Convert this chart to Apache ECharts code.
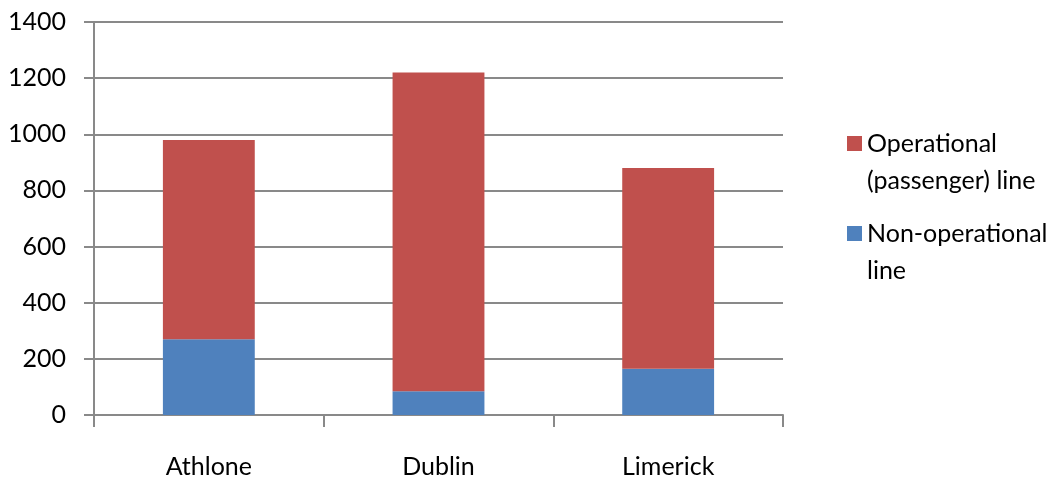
<!DOCTYPE html>
<html>
<head>
<meta charset="utf-8">
<script src="https://cdn.jsdelivr.net/npm/echarts@6/dist/echarts.min.js"></script>
<style>
  html, body { margin: 0; padding: 0; background: #fff; }
  #chart { width: 1056px; height: 479px; }
</style>
</head>
<body>
<div id="chart"></div>
<script>
  // data
  const cities = ['Athlone', 'Dublin', 'Limerick'];
  const nonOperational = [270, 85, 165];
  const operational = [710, 1135, 715];
  const yTicks = [0, 200, 400, 600, 800, 1000, 1200, 1400];

  const opName = 'Operational (passenger) line';
  const nonOpName = 'Non-operational line';
  // leading blank line: the square is centred on the text block, so this puts it beside line one
  const legendText = {};
  legendText[opName] = ' \nOperational\n(passenger) line';
  legendText[nonOpName] = ' \nNon-operational\nline';

  const font = 'Lato, "Open Sans", sans-serif';
  const gridColor = '#898989';

  function legendBox(name, top) {
    return {
      orient: 'vertical',
      left: 847,
      top: top,
      padding: 0,
      itemWidth: 15,
      itemHeight: 15,
      icon: 'rect',
      data: [name],
      formatter: function (n) { return legendText[n]; },
      textStyle: { fontSize: 25, color: '#000', lineHeight: 37, fontFamily: font }
    };
  }

  let chart = echarts.init(document.getElementById('chart'));
  chart.setOption({
    animation: false,
    textStyle: { fontFamily: font },
    grid: { left: 94, right: 273, top: 22, bottom: 63 },
    legend: [legendBox(opName, 88), legendBox(nonOpName, 178)],
    xAxis: {
      type: 'category',
      data: cities,
      axisLine: { lineStyle: { color: gridColor, width: 2 } },
      axisTick: { show: true, length: 12, lineStyle: { color: gridColor, width: 2 } },
      axisLabel: { color: '#000', fontSize: 25, margin: 39 }
    },
    yAxis: {
      type: 'value',
      min: 0,
      max: 1400,
      interval: 200,
      axisLine: { show: true, lineStyle: { color: gridColor, width: 2 } },
      axisTick: { show: true, length: 10, lineStyle: { color: gridColor, width: 2 } },
      axisLabel: { color: '#000', fontSize: 25, margin: 28,
        formatter: function (v) { return yTicks.indexOf(v) >= 0 ? String(v) : ''; } },
      splitLine: { lineStyle: { color: gridColor, width: 2 } }
    },
    series: [
      {
        name: nonOpName,
        type: 'bar',
        stack: 'total',
        barWidth: '40%',
        itemStyle: { color: '#4F81BD' },
        data: nonOperational
      },
      {
        name: opName,
        type: 'bar',
        stack: 'total',
        barWidth: '40%',
        itemStyle: { color: '#C0504D' },
        data: operational
      }
    ]
  });
</script>
</body>
</html>
